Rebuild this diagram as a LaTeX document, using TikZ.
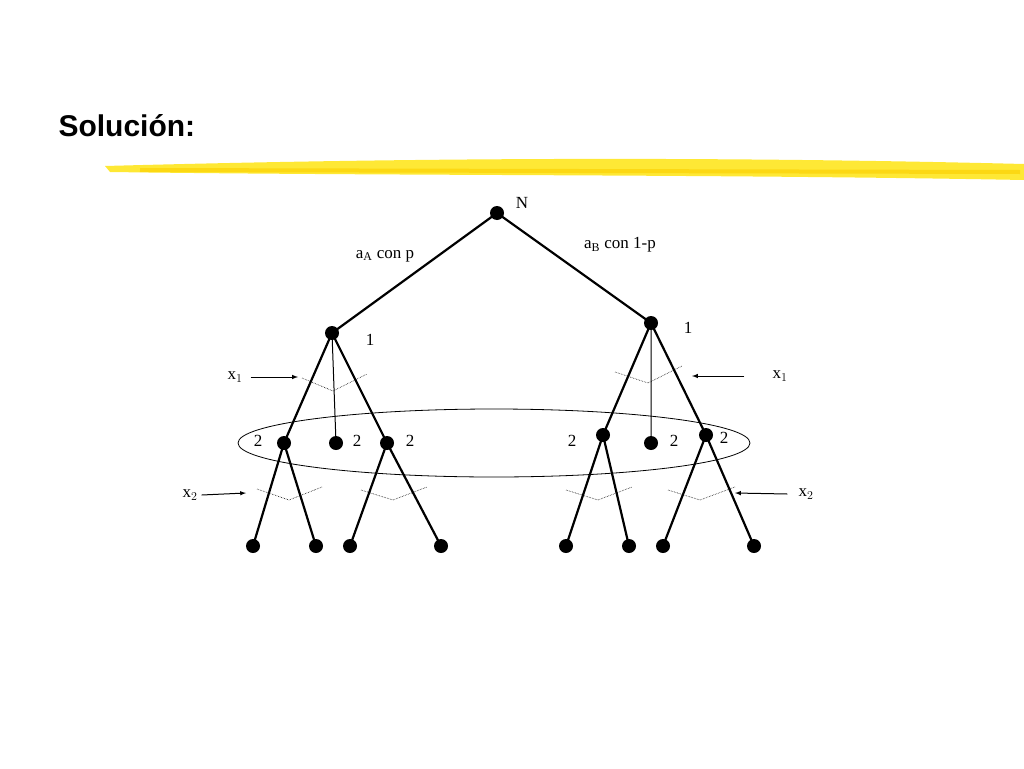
\documentclass[tikz,border=0pt]{standalone}
\usepackage{fontspec}
\setmainfont{Liberation Serif}
\newfontfamily\titlefont{Liberation Sans}
\begin{document}
\begin{tikzpicture}[x=1pt,y=-1pt,
  dot/.style={circle,fill=black,inner sep=0pt,minimum size=14pt},
  br/.style={line width=2.2pt},
  lbl/.style={font=\fontsize{17}{17}\selectfont,inner sep=0pt},
  dv/.style={densely dotted,line width=0.6pt},
  ar/.style={-latex,line width=1pt}]
\useasboundingbox (0,0) rectangle (1024,768);
\node[anchor=west,font=\titlefont\bfseries\fontsize{30}{30}\selectfont] (t) at (55,126) {Solución:};
\fill[yellow!85!orange,opacity=0.8] (105,166) .. controls (400,158) and (700,156) .. (1024,164) -- (1024,180) .. controls (700,174) and (400,176) .. (110,172) -- cycle;
\draw[yellow!70!orange,line width=4pt,opacity=0.7] (140,170) -- (1020,172);
\node[dot] (N) at (497,213) {};
\node[dot] (L) at (332,333) {};
\node[dot] (R) at (651,323) {};
\node[dot] (a) at (284,443) {};
\node[dot] (b) at (336,443) {};
\node[dot] (c) at (387,443) {};
\node[dot] (d) at (603,435) {};
\node[dot] (e) at (651,443) {};
\node[dot] (f) at (706,435) {};
\foreach \n/\x in {a1/253,a2/316,c1/350,c2/441,d1/566,d2/629,f1/663,f2/754}
  \node[dot] (\n) at (\x,546) {};
\draw[br] (N.center)--(L.center) (N.center)--(R.center);
\draw[br] (L.center)--(a.center) (L.center)--(c.center);
\draw[line width=1pt] (L.center)--(b.center) (R.center)--(e.center);
\draw[br] (R.center)--(d.center) (R.center)--(f.center);
\draw[br] (a.center)--(a1.center) (a.center)--(a2.center) (c.center)--(c1.center) (c.center)--(c2.center);
\draw[br] (d.center)--(d1.center) (d.center)--(d2.center) (f.center)--(f1.center) (f.center)--(f2.center);
\draw[line width=0.8pt] (494,443) ellipse (256 and 34);
\draw[dv] (302,378)--(333,391)--(367,374);
\draw[dv] (615,372)--(648,383)--(682,366);
\draw[dv] (257,489)--(289,500)--(322,487);
\draw[dv] (361,490)--(393,500)--(427,487);
\draw[dv] (566,490)--(598,500)--(632,487);
\draw[dv] (668,490)--(700,500)--(735,487);
\node[lbl] (nN) at (522,203) {N};
\node[lbl] (n1) at (370,340) {1};
\node[lbl] (n2) at (688,328) {1};
\foreach \x/\y in {258/441,357/441,410/441,572/441,674/441,724/438}
  \node[lbl] at (\x,\y) {2};
\node[lbl] (aA) at (385,256) {a$_{\mathrm{A}}$ con p};
\node[lbl] (aB) at (620,245) {a$_{\mathrm{B}}$ con 1-p};
\node[lbl] (x1l) at (235,377) {x$_1$};
\node[lbl] (x1r) at (780,376) {x$_1$};
\node[lbl] (x2l) at (190,495) {x$_2$};
\node[lbl] (x2r) at (806,494) {x$_2$};
\coordinate (p1) at (298,377); \coordinate (p2) at (692,376);
\coordinate (p3) at (246,493); \coordinate (p4) at (735,493);
\draw[ar] (x1l.east)++(8,0) -- (p1);
\draw[ar] (x1r.west)++(-28,0) -- (p2);
\draw[ar] (x2l.east)++(4,0) -- (p3);
\draw[ar] (x2r.west)++(-11,0) -- (p4);
\end{tikzpicture}
\end{document}
